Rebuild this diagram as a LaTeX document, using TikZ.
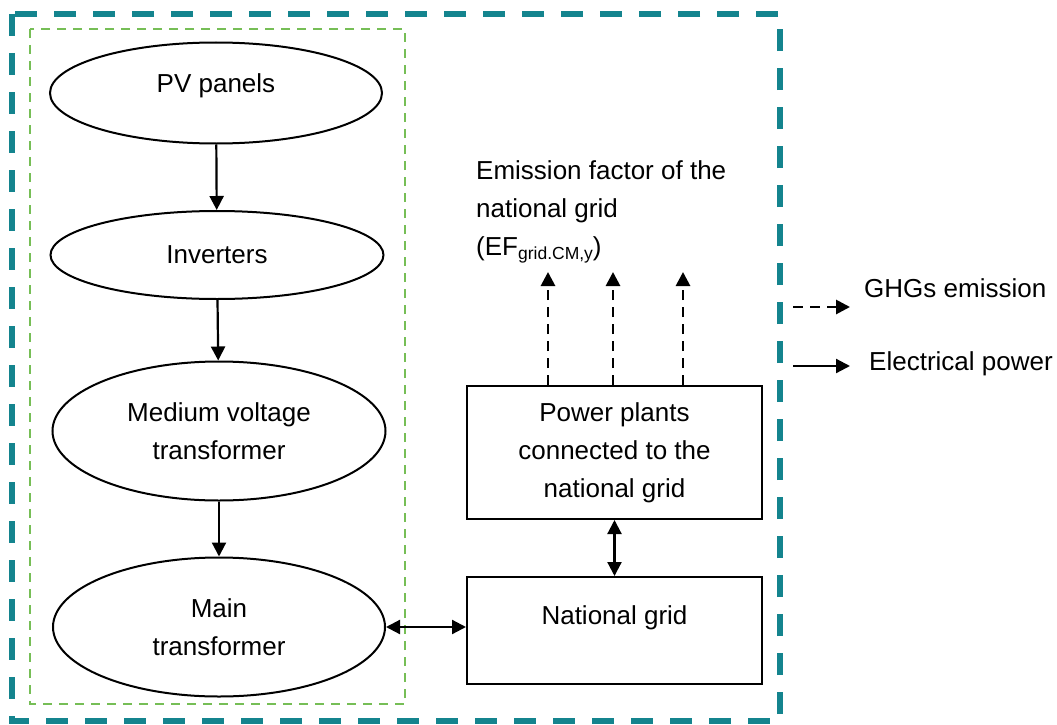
\documentclass[tikz,border=0pt]{standalone}
\usepackage{fontspec}
\setmainfont{Liberation Sans}
\usetikzlibrary{shapes.geometric,arrows.meta}
\definecolor{frameteal}{RGB}{20,132,142}
\definecolor{framegreen}{RGB}{118,190,86}
\begin{document}
\begin{tikzpicture}[x=1pt,y=-1pt,font=\fontsize{26}{38}\selectfont,
		flow/.style={line width=2.2pt,-{Triangle[length=14pt,width=14pt]}},
		both/.style={line width=2.2pt,{Triangle[length=14pt,width=14pt]}-{Triangle[length=14pt,width=14pt]}},
		emit/.style={line width=2.8pt,dash pattern=on 10pt off 7pt,-{Triangle[length=14pt,width=14pt]}}]
			\useasboundingbox (0,0) rectangle (1057,725);
			
			% project boundary and plant boundary
			\draw[frameteal,line width=6pt,dash pattern=on 22pt off 17pt] (12,14) rectangle (780,721);
			\draw[framegreen,line width=2.4pt,dash pattern=on 9pt off 7pt] (30,29) rectangle (405,704);
			
			\begin{scope}[every node/.style={ellipse,draw,line width=2pt,align=center,inner sep=0pt}]
				\node[minimum width=332pt,minimum height=101pt,text depth=20pt] (PV) at (216,93) {PV panels};
				\node[minimum width=333pt,minimum height=88pt] (INV) at (217,255) {Inverters};
				\node[minimum width=333pt,minimum height=139pt] (MV) at (219,431) {Medium voltage\\transformer};
				\node[minimum width=332pt,minimum height=139pt] (MT) at (219,627) {Main\\transformer};
			\end{scope}
			
			\begin{scope}[every node/.style={rectangle,draw,line width=2pt,align=center}]
				\node[minimum width=295pt,minimum height=133pt] (PP) at (614.5,452.5) {Power plants\\connected to the\\national grid};
				\node[minimum width=295pt,minimum height=107pt,text depth=30pt] (NG) at (614.5,630.5) {National grid};
			\end{scope}
			
			\node[align=left,anchor=west,inner sep=0pt] (EF) at (476,212) {Emission factor of the\\national grid\\(EF\raisebox{-4pt}{\fontsize{17.5}{20}\selectfont grid.CM,y})};
			
			\begin{scope}
				\draw[flow] (PV) -- (INV);
				\draw[flow] (INV) -- (MV);
				\draw[flow] (MV) -- (MT);
				\draw[both] (MT.east) -- (NG.west |- MT.east);
				\draw[both] (PP) -- (NG);
				\foreach \x [count=\i] in {548,613,683} {
					\coordinate (top\i) at (\x,272);
					\draw[emit] (PP.north -| top\i) -- (top\i);
				}
			\end{scope}
			
			% legend
			\coordinate (ghgA) at (793,307);
			\coordinate (ghgB) at (850,307);
			\coordinate (powA) at (793,366);
			\coordinate (powB) at (850,366);
			\draw[emit] (ghgA) -- (ghgB);
			\draw[flow] (powA) -- (powB);
			\node[anchor=west,inner sep=0pt] (GHG) at (864,288) {GHGs emission};
			\node[anchor=west,inner sep=0pt] (ELP) at (869,364) {Electrical power};
		\end{tikzpicture}
\end{document}
